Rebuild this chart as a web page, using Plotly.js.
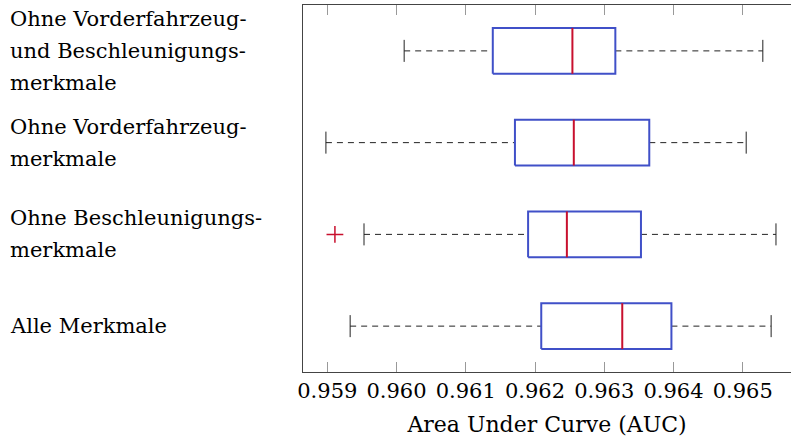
<!DOCTYPE html>
<html>
<head>
<meta charset="utf-8">
<script src="https://cdn.plot.ly/plotly-3.0.1.min.js"></script>
<style>html,body{margin:0;padding:0;background:#fff;}#chart{width:791px;height:442px;}</style>
</head>
<body>
<div id="chart"></div>
<script>
// Categories bottom to top
const categories = [
  "Alle Merkmale",
  "Ohne Beschleunigungs-<br>merkmale",
  "Ohne Vorderfahrzeug-<br>merkmale",
  "Ohne Vorderfahrzeug-<br>und Beschleunigungs-<br>merkmale"
];
const lowerWhisker = [0.95933, 0.95953, 0.95898, 0.96011];
const q1           = [0.96209, 0.96190, 0.96171, 0.96139];
const median       = [0.96326, 0.96246, 0.96256, 0.96254];
const q3           = [0.96397, 0.96353, 0.96365, 0.96316];
const upperWhisker = [0.96541, 0.96548, 0.96505, 0.96529];
const outliers     = [[], [0.95911], [], []];
const tickValues   = [0.959, 0.960, 0.961, 0.962, 0.963, 0.964, 0.965];
const tickLabels   = ["0.959", "0.960", "0.961", "0.962", "0.963", "0.964", "0.965"];

const boxHalf = 0.25, capHalf = 0.12;
const boxX = [], boxY = [], medX = [], medY = [], whX = [], whY = [], capX = [], capY = [], outX = [], outY = [];
categories.forEach((c, i) => {
  boxX.push(q1[i], q3[i], q3[i], q1[i], q1[i], null);
  boxY.push(i - boxHalf, i - boxHalf, i + boxHalf, i + boxHalf, i - boxHalf, null);
  medX.push(median[i], median[i], null);
  medY.push(i - boxHalf, i + boxHalf, null);
  whX.push(lowerWhisker[i], q1[i], null, q3[i], upperWhisker[i], null);
  whY.push(i, i, null, i, i, null);
  capX.push(lowerWhisker[i], lowerWhisker[i], null, upperWhisker[i], upperWhisker[i], null);
  capY.push(i - capHalf, i + capHalf, null, i - capHalf, i + capHalf, null);
  outliers[i].forEach(v => { outX.push(v); outY.push(i); });
});

const blue = "#4050c8", red = "#c8102e";
const FONT = "DejaVu Serif";
const traces = [
  {x: whX, y: whY, mode: "lines", line: {color: "#222", width: 1, dash: "6px,5px"}, hoverinfo: "skip"},
  {x: capX, y: capY, mode: "lines", line: {color: "#222", width: 1}, hoverinfo: "skip"},
  {x: boxX, y: boxY, mode: "lines", line: {color: blue, width: 2}, hoverinfo: "skip"},
  {x: medX, y: medY, mode: "lines", line: {color: red, width: 2}, hoverinfo: "skip"},
  {x: outX, y: outY, mode: "markers", marker: {symbol: "cross-thin", size: 12, line: {color: red, width: 1.5}}, hoverinfo: "skip"}
];

const plotLeft = 303, plotWidth = 488, lineGap = 32;
const annotations = [];
categories.forEach((c, i) => {
  const lines = c.split("<br>");
  lines.forEach((ln, k) => {
    annotations.push({
      text: ln, xref: "paper", yref: "y", x: (8 - plotLeft) / plotWidth, y: i,
      yshift: ((lines.length - 1) / 2 - k) * lineGap,
      xanchor: "left", yanchor: "middle", align: "left", showarrow: false,
      font: {family: FONT, size: 21, color: "#000"}
    });
  });
});

const layout = {
  width: 791, height: 442,
  margin: {l: plotLeft, r: 0, t: 5, b: 70},
  paper_bgcolor: "#fff", plot_bgcolor: "#fff",
  showlegend: false,
  font: {family: FONT, size: 21, color: "#000"},
  xaxis: {
    range: [0.958649, 0.965697], tickvals: tickValues, ticktext: tickLabels,
    ticks: "inside", ticklen: 10, tickcolor: "#999", tickwidth: 1,
    showline: true, mirror: "ticks", linecolor: "#444", linewidth: 1,
    showgrid: false, zeroline: false, tickangle: 0,
    tickfont: {family: FONT, size: 21},
    title: {text: "Area Under Curve (AUC)", font: {family: FONT, size: 22}, standoff: 14}
  },
  yaxis: {
    range: [-0.5, 3.5], showticklabels: false, ticks: "",
    showline: true, mirror: false, linecolor: "#444", linewidth: 1,
    showgrid: false, zeroline: false
  },
  annotations: annotations
};

Plotly.newPlot("chart", traces, layout, {displayModeBar: false, staticPlot: true});
</script>
</body>
</html>
